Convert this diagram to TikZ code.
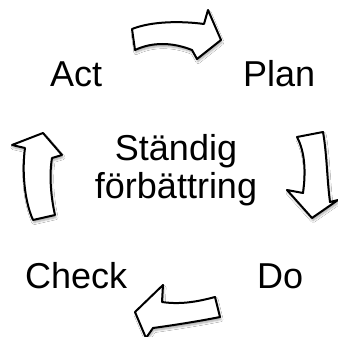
\documentclass[tikz,border=0pt]{standalone}
\usepackage{fontspec}
\setmainfont{Liberation Sans}
\usetikzlibrary{shadows.blur}
\begin{document}
\begin{tikzpicture}[x=1pt,y=-1pt,
  cyclearrow/.style={draw=black, line width=2pt, line join=round, fill=white,
    blur shadow={shadow xshift=1pt, shadow yshift=-2.5pt, shadow blur steps=6, shadow opacity=35}},
  lbl/.style={inner sep=0pt, font=\fontsize{36}{41}\selectfont, text=black}]
\useasboundingbox[fill=white] (0,0) rectangle (338,337);
% top arrow (Act -> Plan)
\path[cyclearrow] (132,29) .. controls (152,21) and (182,21) .. (204,24) -- (208,10) -- (221,40) -- (197,59) -- (192,50)
  .. controls (172,42) and (152,42) .. (135,50) -- cycle;
% right arrow (Plan -> Do)
\path[cyclearrow] (297,137) -- (323,132) .. controls (327,155) and (327,180) .. (330,202) -- (338,200) -- (312,218) -- (287,190) -- (303,193)
  .. controls (306,172) and (305,152) .. (297,137) -- cycle;
% bottom arrow (Do -> Check)
\path[cyclearrow] (215,297) -- (220,317) .. controls (200,321) and (175,325) .. (153,328) -- (146,338) -- (135,312) -- (163,285) -- (162,302)
  .. controls (182,305) and (200,301) .. (215,297) -- cycle;
% left arrow (Check -> Act)
\path[cyclearrow] (33,220) -- (55,215) .. controls (51,198) and (49,175) .. (52,158) -- (62,155) -- (43,133) -- (12,145) -- (25,148)
  .. controls (22,170) and (24,200) .. (33,220) -- cycle;
% labels
\node[lbl, anchor=base west] (act) at (50,87) {Act};
\node[lbl, anchor=base west] (plan) at (243,87) {Plan};
\node[lbl, anchor=base west] (check) at (25,288) {Check};
\node[lbl, anchor=base west] (do) at (257,288) {Do};
\node[lbl, anchor=base, align=center] (center) at (176,198) {Ständig\\[-3pt]förbättring};
\end{tikzpicture}
\end{document}
